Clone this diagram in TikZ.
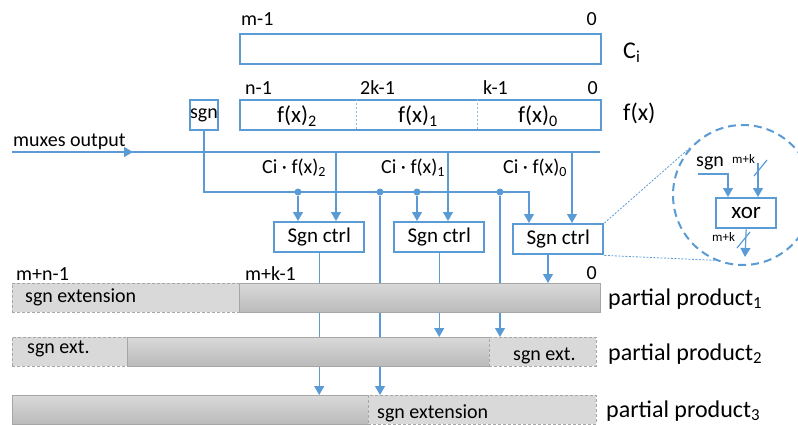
\documentclass[tikz,border=0pt]{standalone}
\usepackage{fontspec}
\setmainfont{Carlito}
\usepackage{xcolor}
\usetikzlibrary{arrows.meta, positioning, backgrounds}

\definecolor{lineblue}{RGB}{91,155,213}
\definecolor{barframe}{RGB}{166,166,166}

\tikzset{
  wire/.style={lineblue, line width=1.2pt},
  arr/.style={wire, -{Triangle[length=9pt, width=10pt]}},
  box/.style={draw=lineblue, line width=2.4pt, rectangle, minimum height=30pt, inner sep=0pt, anchor=north west},
  ctrl/.style={box, minimum width=90pt, font=\fontsize{21}{24}\selectfont},
  bar/.style={draw=barframe, line width=0.8pt, top color=black!15, bottom color=black!27, minimum height=29pt, inner sep=0pt, anchor=north west},
  ext/.style={draw=barframe, line width=0.8pt, dash pattern=on 3pt off 2pt, fill=black!15, minimum height=29pt, inner sep=0pt, anchor=north west},
  lbl/.style={inner sep=0pt, anchor=base west, font=\fontsize{20}{24}\selectfont},
  tiny/.style={inner sep=0pt, anchor=base west, font=\fontsize{13}{15}\selectfont},
  big/.style={inner sep=0pt, anchor=base west, font=\fontsize{24}{28}\selectfont},
  joint/.style={circle, fill=lineblue, inner sep=0pt, minimum size=7pt},
}

\begin{document}
\begin{tikzpicture}[x=1pt, y=-1pt]
  \useasboundingbox (0,0) rectangle (798,425);

  % C_i and f(x) registers
  \node[box, minimum width=361pt] (ci) at (239,33) {};
  \node[lbl] (cim) at (241,26) {m-1};
  \node[lbl, anchor=base east] (ci0) at (597,26) {0};
  \node[big] (cil) at (623,59) {C\textsubscript{i}};

  \node[box, minimum width=361pt] (fx) at (239,99) {};
  \draw[lineblue!70, line width=0.8pt, dash pattern=on 2pt off 2pt] (356,99) -- (356,129);
  \draw[lineblue!70, line width=0.8pt, dash pattern=on 2pt off 2pt] (477,99) -- (477,129);
  \node[lbl] (fxn) at (245,95) {n-1};
  \node[lbl] (fx2k) at (360,95) {2k-1};
  \node[lbl] (fxk) at (483,95) {k-1};
  \node[lbl, anchor=base east] (fx0) at (598,95) {0};
  \node[lbl, font=\fontsize{23}{26}\selectfont] (f2) at (277,123) {f(x)\textsubscript{2}};
  \node[lbl, font=\fontsize{23}{26}\selectfont] (f1) at (398,123) {f(x)\textsubscript{1}};
  \node[lbl, font=\fontsize{23}{26}\selectfont] (f0) at (518,123) {f(x)\textsubscript{0}};
  \node[big] (fxl) at (623,121) {f(x)};

  \node[box, minimum width=28pt, line width=2pt, font=\fontsize{20}{24}\selectfont] (sgn) at (189,99) {sgn};

  % muxes output bus
  \coordinate (mxin) at (12,152);
  \coordinate (mxend) at (600,152);
  \draw[wire] (mxin) -- (mxend);
  \draw[arr] (mxin) -- (133,152);
  \node[lbl] (mxl) at (13,147) {muxes output};

  \node[lbl] (p2) at (262,173) {Ci · f(x)\textsubscript{2}};
  \node[lbl] (p1) at (381,173) {Ci · f(x)\textsubscript{1}};
  \node[lbl] (p0) at (503,173) {Ci · f(x)\textsubscript{0}};

  % sign control blocks
  \node[ctrl] (sc1) at (273,221) {Sgn ctrl};
  \node[ctrl] (sc2) at (393,221) {Sgn ctrl};
  \node[ctrl] (sc3) at (512,223) {Sgn ctrl};

  \node[joint] (j1) at (298,192) {};
  \node[joint] (j2) at (380,192) {};
  \node[joint] (j3) at (417,192) {};
  \node[joint] (j4) at (500,192) {};
  \coordinate (s3) at (529,192);

  \draw[arr] (sgn.south) |- (s3) -- (s3 |- sc3.north);
  \draw[arr] (j1) -- (j1 |- sc1.north);
  \draw[arr] (j3) -- (j3 |- sc2.north);

  \coordinate (m1) at (336,152);
  \coordinate (m2) at (448,152);
  \coordinate (m3) at (572,152);
  \draw[arr] (m1) -- (m1 |- sc1.north);
  \draw[arr] (m2) -- (m2 |- sc2.north);
  \draw[arr] (m3) -- (m3 |- sc3.north);

  % partial products
  \node[ext, minimum width=227pt] (pp1a) at (12,283) {};
  \node[bar, minimum width=361pt] (pp1b) at (239,283) {};
  \node[ext, minimum width=115pt] (pp2a) at (12,337) {};
  \node[bar, minimum width=362pt] (pp2b) at (127,337) {};
  \node[ext, minimum width=107pt] (pp2c) at (489,337) {};
  \node[bar, minimum width=356pt] (pp3a) at (12,395) {};
  \node[ext, minimum width=228pt] (pp3b) at (368,395) {};

  \node[lbl] (e1) at (25,302) {sgn extension};
  \node[lbl] (e2) at (27,353) {sgn ext.};
  \node[lbl] (e3) at (513,360) {sgn ext.};
  \node[lbl] (e4) at (377,418) {sgn extension};

  \node[lbl] (bmn) at (16,280) {m+n-1};
  \node[lbl] (bmk) at (245,280) {m+k-1};
  \node[lbl, anchor=base east] (b0) at (597,279) {0};

  \node[big] (pl1) at (608,305) {partial product\textsubscript{1}};
  \node[big] (pl2) at (608,360) {partial product\textsubscript{2}};
  \node[big] (pl3) at (606,417) {partial product\textsubscript{3}};

  % outputs run behind the bars
  \coordinate (o3) at (548,253);
  \begin{scope}[on background layer]
    \draw[arr] (sc1.south) -- (sc1.south |- pp3a.north);
    \draw[arr] (j2) -- (j2 |- pp3b.north);
    \draw[arr] (sc2.south) -- (sc2.south |- pp2b.north);
    \draw[arr] (j4) -- (j4 |- pp2c.north);
    \draw[arr] (o3) -- (o3 |- pp1b.north);
  \end{scope}

  % close-up of one sign control
  \node[circle, draw=lineblue, line width=2pt, dash pattern=on 8pt off 5pt, minimum size=140pt, inner sep=0pt] (lens) at (743,195) {};
  \draw[lineblue, line width=0.8pt, dash pattern=on 2pt off 1.5pt] (sc3.north east) -- (lens.138);
  \draw[lineblue, line width=0.8pt, dash pattern=on 2pt off 1.5pt] (sc3.south east) -- (lens.247);

  \node[box, minimum width=60pt, font=\fontsize{23}{26}\selectfont] (xor) at (715,197) {xor};
  \node[lbl] (xs) at (696,167) {sgn};
  \node[tiny] (xmk1) at (732,164) {m+k};
  \node[tiny] (xmk2) at (712,241) {m+k};

  \coordinate (xi1) at (698,174);
  \coordinate (xa) at (728,197);
  \coordinate (xi2) at (758,163);
  \coordinate (xb) at (758,197);
  \coordinate (xe) at (745,257);
  \draw[arr] (xi1) -| (xa);
  \draw[arr] (xi2) -- (xb);
  \draw[wire] (754,176) -- (767,160);
  \draw[arr] (xor.south) -- (xe);
  \draw[wire] (737,248) -- (750,232);
\end{tikzpicture}
\end{document}
